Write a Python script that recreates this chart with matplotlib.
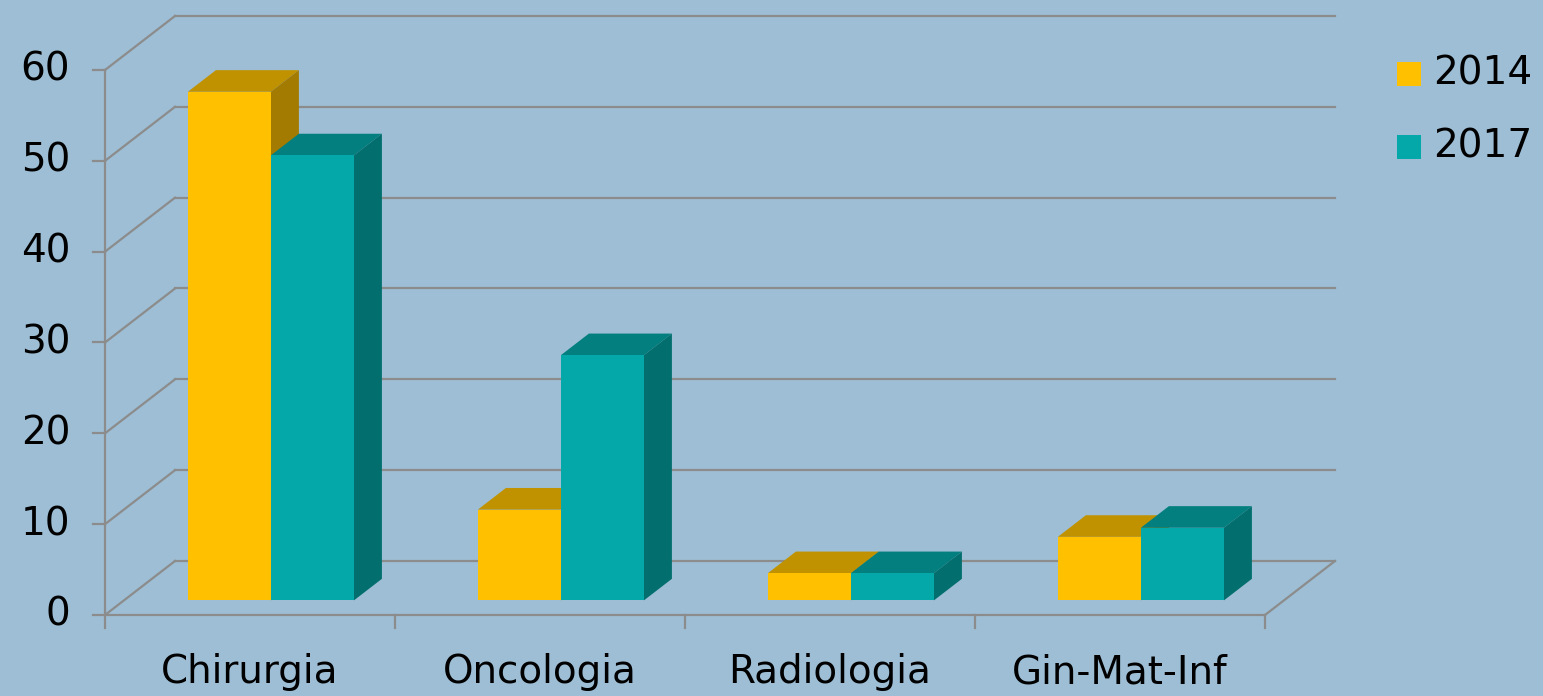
import matplotlib
matplotlib.use("Agg")
import matplotlib.pyplot as plt
from matplotlib.patches import Polygon

categories = ["Chirurgia", "Oncologia", "Radiologia", "Gin-Mat-Inf"]
series_names = ["2014", "2017"]
values_2014 = [56, 10, 3, 7]
values_2017 = [49, 27, 3, 8]
y_ticks = [0, 10, 20, 30, 40, 50, 60]

BG = "#9DBED4"
GRID = "#8C8C8C"
front_cols = ["#FFC000", "#04A8A8"]
top_cols = ["#C19200", "#037F7F"]
side_cols = ["#A27B00", "#026E6E"]

# depth vector (full depth of the 3D box) in data units
DX = 70 / 290.0
DY = 54 * 60 / 545.0
# bar depth range as fraction of the full depth
D0, D1 = 0.27, 0.67
BAR_W = 83 / 290.0
SHIFT = 2 * 4 / 1160

fig = plt.figure(figsize=(15.43, 6.96), dpi=100)
fig.patch.set_facecolor(BG)
ax = fig.add_axes([0, 0, 1, 1])
ax.set_facecolor(BG)
ax.set_xlim(-105 * 4 / 1160, (1543 - 105) * 4 / 1160)
ax.set_ylim(-(696 - 615) * 60 / 545, 60 + 70 * 60 / 545)
ax.axis("off")

FS = 28
n = len(categories)
lw = 1.6
# back wall gridlines and diagonal connectors
for t in y_ticks:
    ax.plot([DX, n + DX], [t + DY, t + DY], color=GRID, lw=lw, zorder=1)
    ax.plot([0, DX], [t, t + DY], color=GRID, lw=lw, zorder=1)
    ax.plot([-0.04, 0], [t, t], color=GRID, lw=lw, zorder=1)
    ax.text(-0.12, t, str(t), ha="right", va="center", fontsize=FS,
            color="black", family="DejaVu Sans")
# left vertical axis
ax.plot([0, 0], [0, y_ticks[-1]], color=GRID, lw=lw, zorder=1)
# floor
ax.plot([0, n], [0, 0], color=GRID, lw=lw, zorder=1)
ax.plot([n, n + DX], [0, DY], color=GRID, lw=lw, zorder=1)
for i in range(n + 1):
    ax.plot([i, i], [0, -1.4], color=GRID, lw=lw, zorder=1)

for i, cat in enumerate(categories):
    ax.text(i + 0.5, -6.3, cat, ha="center", va="center", fontsize=FS,
            color="black", family="DejaVu Sans")

ox, oy = D0 * DX, D0 * DY
ddx, ddy = (D1 - D0) * DX, (D1 - D0) * DY
for s, vals in enumerate([values_2014, values_2017]):
    for i, v in enumerate(vals):
        x0 = i + 0.5 - BAR_W + s * BAR_W + ox + SHIFT
        x1 = x0 + BAR_W
        y0 = oy
        y1 = oy + v
        z = 3 + s
        top = Polygon([(x0, y1), (x1, y1), (x1 + ddx, y1 + ddy), (x0 + ddx, y1 + ddy)],
                      closed=True, facecolor=top_cols[s], edgecolor="none", zorder=z)
        side = Polygon([(x1, y0), (x1 + ddx, y0 + ddy), (x1 + ddx, y1 + ddy), (x1, y1)],
                       closed=True, facecolor=side_cols[s], edgecolor="none", zorder=z)
        front = Polygon([(x0, y0), (x1, y0), (x1, y1), (x0, y1)],
                        closed=True, facecolor=front_cols[s], edgecolor="none", zorder=z)
        for p in (top, side, front):
            ax.add_patch(p)

# legend
for s, name in enumerate(series_names):
    ly = 60 + 70 * 60 / 545 - (74 + 73 * s) * 60 / 545
    lx = (1397 - 105) * 4 / 1160
    sq = 24 * 4 / 1160
    sqh = 24 * 60 / 545
    ax.add_patch(Polygon([(lx, ly - sqh / 2), (lx + sq, ly - sqh / 2),
                          (lx + sq, ly + sqh / 2), (lx, ly + sqh / 2)],
                         closed=True, facecolor=front_cols[s], edgecolor="none", zorder=5))
    ax.text(lx + sq + 12 * 4 / 1160, ly, name, ha="left", va="center",
            fontsize=FS, color="black", family="DejaVu Sans")

fig.savefig("out.png", dpi=100, facecolor=BG)
